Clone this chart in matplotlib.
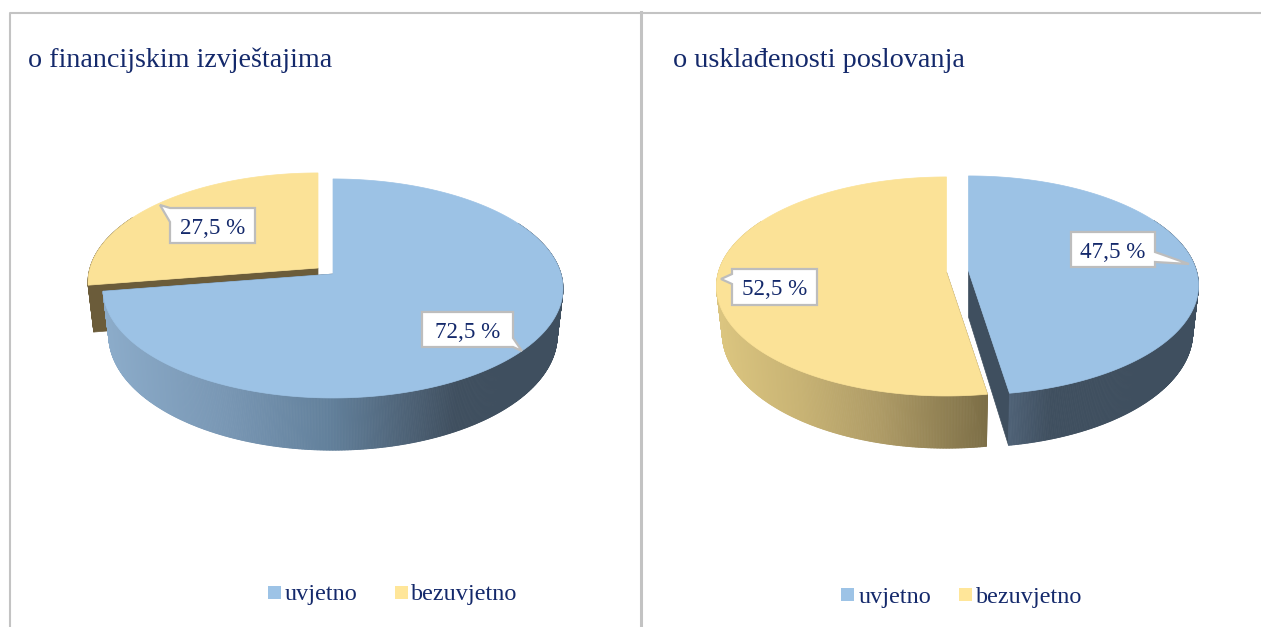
import numpy as np
import matplotlib
matplotlib.use('Agg')
import matplotlib.pyplot as plt
from matplotlib.collections import PolyCollection
from matplotlib.colors import to_rgb
from matplotlib.patches import Polygon, Rectangle

plt.rcParams['font.family'] = ['Liberation Serif', 'DejaVu Serif']

# values (clockwise from 12 o'clock)
categories = ['uvjetno', 'bezuvjetno']
titles = ['o financijskim izvještajima', 'o usklađenosti poslovanja']
left_values = [72.5, 27.5]
right_values = [47.5, 52.5]

NAVY = '#14296b'
GREY = '#c3c3c3'
BLUE = '#9cc2e5'
YELLOW = '#fbe297'
LEG_BLUE = '#9dc3e6'
LEG_YELLOW = '#ffe699'
BLUE_FACE = '#3f4f5f'
BROWN_FACE = '#6b5c3a'

# pie projection, pixels
RX, RY, PERSP = 228, 107.6, 0.132
DEPTH, SX, SY = 46, 0.975, 1.05


def disc_xy(apex, deg, bottom=False):
    a = np.radians(deg)
    u, v = np.sin(a), np.cos(a)
    w = 1 + PERSP * v
    dx, dy = RX * u / w, -RY * v / w
    if bottom:
        return apex[0] + SX * dx, apex[1] + DEPTH + SY * dy
    return apex[0] + dx, apex[1] + dy


def ramp(stops, x):
    xs = [s[0] for s in stops]
    rgb = np.array([to_rgb(s[1]) for s in stops])
    return [np.interp(x, xs, rgb[:, i]) for i in range(3)]


def draw_slice(ax, apex, start, end, top_color, face_color, stops):
    # cut faces first, wall over them, top surface last
    for deg in (start, end):
        if deg % 360 == 0:
            continue  # seen edge-on
        tx, ty = disc_xy(apex, deg)
        bx, by = disc_xy(apex, deg, bottom=True)
        ax.add_patch(Polygon([apex, (tx, ty), (bx, by),
                              (apex[0], apex[1] + DEPTH)],
                             fc=face_color, ec=face_color, lw=0.5))
    a0, a1 = max(start, 60), min(end, 300)
    degs = np.linspace(a0, a1, int((a1 - a0) * 3) + 2)
    quads, cols = [], []
    for d0, d1 in zip(degs[:-1], degs[1:]):
        p = [disc_xy(apex, d0), disc_xy(apex, d1),
             disc_xy(apex, d1, True), disc_xy(apex, d0, True)]
        quads.append(p)
        cols.append(ramp(stops, np.mean([q[0] for q in p])))
    ax.add_collection(PolyCollection(quads, facecolors=cols, edgecolors=cols, linewidths=0.6))
    degs = np.linspace(start, end, 300)
    arc = [disc_xy(apex, d) for d in degs]
    ax.add_patch(Polygon([apex] + arc, fc=top_color, ec=top_color, lw=0.5))


def callout(ax, box, tail, tip, value):
    x0, y0, x1, y1 = box
    # tail = box side, and where on it the tail leaves
    side, p, q = tail
    if side == 'left':
        pts = [(x0, y0), (x1, y0), (x1, y1), (x0, y1), (x0, q), tip, (x0, p)]
    else:
        pts = [(x0, y0), (x1, y0), (x1, p), tip, (x1, q), (x1, y1), (x0, y1)]
    ax.add_patch(Polygon(pts, fc='white', ec='#bdbdbd', lw=1.6, joinstyle='miter', zorder=5))
    label = f'{value:.1f} %'.replace('.', ',')
    ax.text((x0 + x1) / 2, (y0 + y1) / 2 + 8, label, color=NAVY, fontsize=16.6,
            ha='center', va='baseline', zorder=6)


def legend(ax, items):
    for (sx, text_x), name, color, sy, base in items:
        ax.add_patch(Rectangle((sx, sy), 13, 13, fc=color, ec='none'))
        ax.text(text_x, base, name, color=NAVY, fontsize=17.35, va='baseline')


fig = plt.figure(figsize=(12.61, 6.27), dpi=100)
ax = fig.add_axes([0, 0, 1, 1])
ax.set_xlim(0, 1261)
ax.set_ylim(627, 0)
ax.axis('off')

# frame
ax.plot([1261, 10, 10], [12.5, 12.5, 627], color=GREY, lw=1.5)
ax.plot([640.5, 640.5], [12, 627], color=GREY, lw=2.2)

ax.text(28, 67, titles[0], color=NAVY, fontsize=20.2, va='baseline')
ax.text(673, 67, titles[1], color=NAVY, fontsize=20.3, va='baseline')

left_ang = np.cumsum([0] + left_values) * 3.6
right_ang = np.cumsum([0] + right_values) * 3.6

blue_wall = [(105, '#8cacca'), (230, '#7896b3'), (330, '#62809b'), (420, '#4a5d70'), (455, '#3f4f5f'), (565, '#3f4f5f')]
brown_wall = [(0, BROWN_FACE), (1261, BROWN_FACE)]
yellow_wall = [(717, '#dcc680'), (800, '#c8b374'), (880, '#ae9b66'), (985, '#7d6f47')]
dark_wall = [(1008, '#4f6277'), (1050, '#3f4f5f'), (1200, '#3f4f5f')]

# left pie
draw_slice(ax, (318, 268), left_ang[1], left_ang[2], YELLOW, BROWN_FACE, brown_wall)
draw_slice(ax, (333, 274), left_ang[0], left_ang[1], BLUE, BLUE_FACE, blue_wall)
# right pie
draw_slice(ax, (946.5, 272), right_ang[1], right_ang[2], YELLOW, BROWN_FACE, yellow_wall)
draw_slice(ax, (968.5, 271), right_ang[0], right_ang[1], BLUE, BLUE_FACE, dark_wall)

callout(ax, (422, 312, 513, 347), ('right', 338, 347), (522, 351), left_values[0])
callout(ax, (170, 208, 255, 243), ('left', 208, 222), (160, 205), left_values[1])
callout(ax, (1071, 232, 1155, 267), ('right', 252, 262), (1189, 264), right_values[0])
callout(ax, (732, 269, 817, 305), ('left', 274, 284), (721, 279), right_values[1])

legend(ax, [((268, 285), categories[0], LEG_BLUE, 586, 600),
            ((395, 411), categories[1], LEG_YELLOW, 586, 600),
            ((841, 859), categories[0], LEG_BLUE, 588, 603),
            ((959, 976), categories[1], LEG_YELLOW, 588, 603)])

fig.savefig('out.png', dpi=100)
